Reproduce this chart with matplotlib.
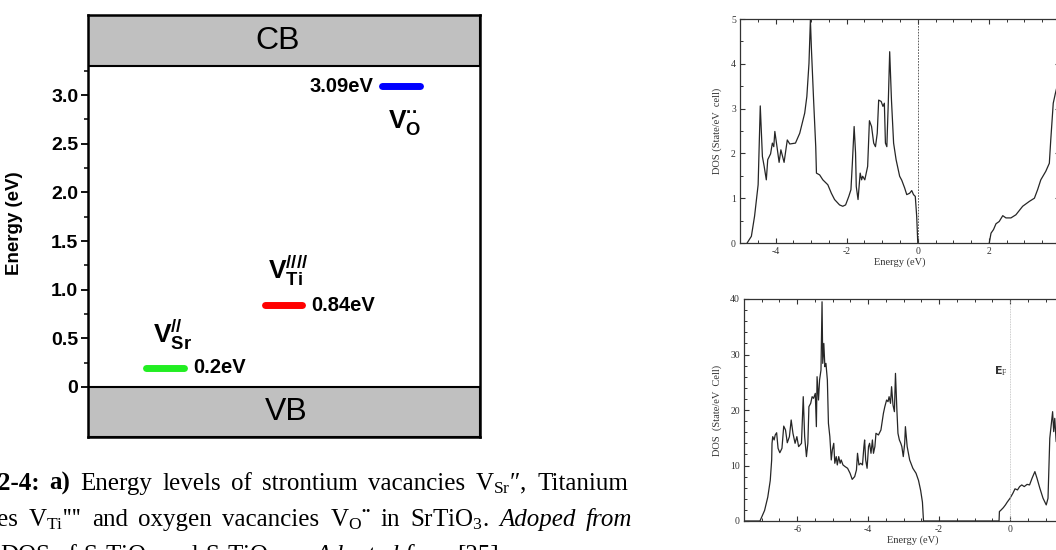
import numpy as np
import matplotlib.pyplot as plt
from matplotlib.ticker import MultipleLocator, FixedLocator, FuncFormatter
from matplotlib.transforms import IdentityTransform

plt.rcParams['mathtext.default'] = 'regular'
plt.rcParams['axes.unicode_minus'] = False

# ---- data: defect levels in SrTiO3 (eV above the VB edge)
level_energy = [0.2, 0.84, 3.09]
level_text = ['0.2eV', '0.84eV', '3.09eV']
level_names = [r'$V_{Sr}^{//}$', r'$V_{Ti}^{////}$', r'$V_{O}^{··}$']
level_colors = ['#22ee22', '#ff0000', '#0000ff']
gap_top = 3.3

# ---- data: DOS of SrTiO3 (top panel)
vb1_e = [-4.80, -4.68, -4.59, -4.49, -4.43, -4.37, -4.32, -4.26, -4.22, -4.14, -4.09, -4.05,
         -4.02, -3.96, -3.90, -3.85, -3.76, -3.67, -3.60, -3.44, -3.32, -3.18, -3.12, -3.06,
         -3.02, -2.99, -2.93, -2.87, -2.85, -2.76, -2.67, -2.53, -2.43, -2.34, -2.20, -2.11,
         -2.03, -1.94, -1.88, -1.84, -1.79, -1.75, -1.73, -1.68, -1.62, -1.58, -1.55, -1.49,
         -1.41, -1.36, -1.30, -1.24, -1.19, -1.14, -1.10, -1.03, -0.98, -0.94, -0.91, -0.87,
         -0.83, -0.79, -0.74, -0.68, -0.61, -0.51, -0.45, -0.37, -0.31, -0.23, -0.17, -0.12,
         -0.07, -0.03, 0.00]
vb1_d = [0.00, 0.15, 0.60, 1.30, 3.06, 1.93, 1.71, 1.41, 1.86, 1.99, 2.23, 2.15,
         2.49, 2.15, 1.80, 2.08, 1.80, 2.30, 2.21, 2.23, 2.45, 2.90, 3.27, 4.01,
         4.98, 4.31, 3.19, 2.15, 1.56, 1.52, 1.41, 1.30, 1.11, 0.97, 0.85, 0.82,
         0.85, 1.04, 1.19, 1.78, 2.60, 2.01, 1.26, 0.97, 1.56, 1.41, 1.49, 1.41,
         1.71, 2.73, 2.60, 2.23, 2.15, 2.45, 3.19, 3.16, 3.05, 3.12, 2.23, 2.15,
         3.12, 4.27, 3.19, 2.23, 1.86, 1.49, 1.40, 1.23, 1.08, 1.11, 1.17, 1.08,
         1.04, 0.59, 0.00]
cb1_e = [2.01, 2.06, 2.13, 2.20, 2.29, 2.39, 2.48, 2.62, 2.76, 2.95, 3.14, 3.28, 3.37,
         3.46, 3.60, 3.70, 3.74, 3.81, 3.87, 3.95]
cb1_d = [0.00, 0.22, 0.30, 0.43, 0.48, 0.61, 0.56, 0.56, 0.63, 0.82, 0.93, 1.00, 1.19,
         1.41, 1.60, 1.78, 2.30, 3.12, 3.34, 3.60]

# ---- data: DOS of SrTiO3-x (bottom panel)
dos2_e = [-7.50, -7.05, -6.92, -6.83, -6.76, -6.72, -6.71, -6.69, -6.65, -6.62, -6.58, -6.54,
          -6.49, -6.43, -6.38, -6.33, -6.28, -6.22, -6.17, -6.12, -6.06, -6.01, -5.96, -5.88,
          -5.83, -5.79, -5.74, -5.70, -5.67, -5.62, -5.58, -5.54, -5.49, -5.46, -5.44, -5.40,
          -5.37, -5.33, -5.30, -5.28, -5.25, -5.22, -5.19, -5.15, -5.12, -5.08, -5.04, -5.01,
          -4.97, -4.94, -4.90, -4.87, -4.83, -4.79, -4.76, -4.71, -4.65, -4.58, -4.51, -4.45,
          -4.38, -4.33, -4.30, -4.26, -4.21, -4.16, -4.12, -4.10, -4.07, -4.03, -3.99, -3.96,
          -3.92, -3.88, -3.85, -3.81, -3.78, -3.71, -3.64, -3.57, -3.53, -3.48, -3.44, -3.41,
          -3.37, -3.34, -3.30, -3.26, -3.23, -3.19, -3.16, -3.12, -3.08, -3.05, -3.01, -2.97,
          -2.95, -2.90, -2.83, -2.74, -2.65, -2.58, -2.52, -2.47, -2.44, -0.31, -0.30, -0.25,
          -0.19, -0.13, -0.08, 0.00, 0.08, 0.14, 0.21, 0.27, 0.33, 0.40, 0.48, 0.55,
          0.62, 0.70, 0.76, 0.84, 0.93, 1.02, 1.07, 1.12, 1.16, 1.20, 1.23, 1.26,
          1.30, 1.33]
dos2_d = [0.0, 0.0, 1.9, 4.3, 7.3, 11.0, 14.0, 15.2, 14.6, 15.5, 15.9, 13.1,
          12.3, 13.1, 17.1, 16.4, 14.1, 15.2, 18.2, 15.8, 14.0, 15.2, 13.4, 14.0,
          22.4, 15.2, 11.6, 14.0, 20.6, 21.2, 22.4, 22.1, 23.0, 17.0, 26.0, 21.8,
          25.4, 27.2, 39.5, 28.4, 32.0, 27.8, 28.4, 25.4, 17.6, 15.2, 11.0, 12.8,
          14.0, 10.4, 11.6, 10.1, 11.6, 10.4, 11.0, 10.1, 9.8, 9.5, 8.6, 7.5,
          8.0, 9.2, 12.2, 10.1, 10.4, 10.1, 13.4, 14.6, 11.0, 9.5, 13.4, 14.0,
          12.2, 14.6, 12.2, 13.4, 15.8, 15.5, 16.4, 19.4, 20.6, 21.8, 21.5, 22.4,
          21.2, 24.2, 20.9, 19.7, 26.6, 20.0, 15.8, 14.6, 14.0, 13.4, 11.6, 14.0,
          17.0, 13.4, 11.0, 9.5, 8.6, 7.3, 5.5, 3.4, 0.0, 0.0, 1.7, 2.0,
          2.4, 2.9, 3.4, 4.1, 5.0, 5.8, 5.6, 6.2, 6.5, 6.2, 6.6, 6.5,
          7.7, 8.9, 7.7, 5.9, 4.1, 2.9, 4.1, 14.9, 17.3, 19.7, 16.1, 18.5,
          14.3, 16.7]

W, H = 1056, 550
fig = plt.figure(figsize=(W / 100, H / 100), dpi=100)
fig.patch.set_facecolor('white')

def box(l, t, r, b):
    return [l / W, 1 - b / H, (r - l) / W, (b - t) / H]

# ---------------- a) energy level diagram
sans = 'Liberation Sans'
ax = fig.add_axes(box(88, 15, 480, 437))
ax.set_xlim(0, 1)
ax.set_ylim(-0.514, 3.823)
ax.axhspan(gap_top, 3.823, facecolor='#c0c0c0', edgecolor='black', lw=1.5)
ax.axhspan(-0.514, 0, facecolor='#c0c0c0', edgecolor='black', lw=1.5)
for s in ax.spines.values():
    s.set_linewidth(1.8)

bar_x = [(0.149, 0.246), (0.452, 0.546), (0.751, 0.847)]
for (x0, x1), e, c in zip(bar_x, level_energy, level_colors):
    ax.plot([x0, x1], [e, e], color=c, lw=5, solid_capstyle='round')

ax.text(0.268, level_energy[0], level_text[0], family=sans, weight='bold', fontsize=14.5,
        ha='left', va='center')
ax.text(0.569, level_energy[1], level_text[1], family=sans, weight='bold', fontsize=14.5,
        ha='left', va='center')
ax.text(0.727, level_energy[2], level_text[2], family=sans, weight='bold', fontsize=14.5,
        ha='right', va='center')

name_pos = [(0.166, 0.45), (0.459, 1.11), (0.765, 2.66)]
for (x, y), n in zip(name_pos, level_names):
    ax.text(x, y, n, family=sans, weight='bold', fontsize=19, ha='left', va='baseline')

ax.text(0.485, 3.56, 'CB', family=sans, fontsize=23, ha='center', va='center')
ax.text(0.505, -0.257, 'VB', family=sans, fontsize=23, ha='center', va='center')

ax.set_xticks([])
ax.yaxis.set_major_locator(FixedLocator(np.arange(0, 3.01, 0.5)))
ax.yaxis.set_minor_locator(FixedLocator(np.arange(0.25, 3.3, 0.5)))
ax.yaxis.set_major_formatter(FuncFormatter(lambda v, p: '0' if v == 0 else f'{v:.1f}'))
ax.tick_params(axis='y', which='major', length=5, width=1.3, pad=2, labelsize=14,
               labelfontfamily=sans)
ax.tick_params(axis='y', which='minor', length=3, width=1.1)
for lb in ax.get_yticklabels():
    lb.set_fontweight('bold')
ax.set_ylabel('Energy (eV)', family=sans, weight='bold', fontsize=13.5)
ax.yaxis.set_label_coords(-0.166, 0.507)

# ---------------- b) DOS panels (cropped at the right edge)
serif = 'Liberation Serif'
line_c = '#262626'

def dos_axes(ax, xlim, ylim, ymaj, ymin, ylabel):
    ax.set_xlim(*xlim)
    ax.set_ylim(*ylim)
    ax.xaxis.set_major_locator(MultipleLocator(2))
    ax.xaxis.set_minor_locator(MultipleLocator(0.5))
    ax.yaxis.set_major_locator(MultipleLocator(ymaj))
    ax.yaxis.set_minor_locator(MultipleLocator(ymin))
    ax.tick_params(which='both', direction='in', top=True, right=True, colors='#333333',
                   labelsize=7, labelfontfamily=serif, pad=3)
    ax.tick_params(which='major', length=3.5, width=0.8)
    ax.tick_params(which='minor', length=2.5, width=0.7)
    for s in ax.spines.values():
        s.set_linewidth(0.9)
        s.set_color('#333333')
    ax.set_xlabel('Energy (eV)', family=serif, fontsize=7.5, labelpad=1, color='#333333')
    ax.set_ylabel(ylabel, family=serif, fontsize=7.5, labelpad=6, color='#333333')

ax1 = fig.add_axes(box(740, 19, 1060, 243))
ax1.plot(vb1_e, vb1_d, color=line_c, lw=0.9)
ax1.plot(cb1_e, cb1_d, color=line_c, lw=0.9)
ax1.axvline(0, color='#444444', lw=0.6, ls=(0, (2, 1.5)))
dos_axes(ax1, (-5, 4), (0, 5), 1, 0.5, 'DOS (State/eV  cell)')

ax2 = fig.add_axes(box(744, 299, 1081, 521))
ax2.plot(dos2_e, dos2_d, color=line_c, lw=0.9)
ax2.axvline(0, color='#bbbbbb', lw=0.6, ls=(0, (1, 1)))
ax2.text(-0.25, 27, r'$\mathbf{E}_F$', family=serif, fontsize=8, ha='center', va='center',
         color='#333333')
dos_axes(ax2, (-7.5, 2), (0, 40), 10, 2, 'DOS  (State/eV  Cell)')

# ---------------- caption (justified serif text, cut at left / bottom)
rend = fig.canvas.get_renderer()
cap_size = 18
styles = {'r': {}, 'b': {'weight': 'bold'}, 'i': {'style': 'italic'}}

def caption_line(words, base, x0, x1=None):
    y = H - base
    placed = []
    for word in words:
        if isinstance(word, str):
            word = [(word, 'r')]
        arts = []
        for txt, st in word:
            t = fig.text(0, y, txt, transform=IdentityTransform(), family=serif,
                         fontsize=cap_size, va='baseline', ha='left', **styles[st])
            arts.append(t)
        widths = [a.get_window_extent(rend).width for a in arts]
        placed.append((arts, widths))
    total = sum(sum(w) for _, w in placed)
    if x1 is None:
        gap = 0.25 * cap_size * 100 / 72
    else:
        gap = (x1 - x0 - total) / (len(placed) - 1)
    x = x0
    for arts, widths in placed:
        for a, w in zip(arts, widths):
            a.set_x(x)
            x += w
        x += gap

caption_line([[('2-4:', 'b')], [('a)', 'b')], 'Energy', 'levels', 'of', 'strontium',
              'vacancies', r'V$_{Sr}$″,', 'Titanium'], 490, -2, 628)
caption_line(['es', r"V$_{Ti}$''''", 'and', 'oxygen', 'vacancies', [(r'V$_{O}$', 'r'), ('¨', 'b')],
              'in', r'SrTiO$_3$.', [('Adoped', 'i')], [('from', 'i')]], 526, -3, 632)
caption_line(['DOS', 'of', r'SrTiO$_3$', 'and', r'SrTiO$_{3-x}$.', [('Adopted', 'i')],
              [('from', 'i')], '[25]'], 562, 0)

fig.savefig('out.png', dpi=100)
